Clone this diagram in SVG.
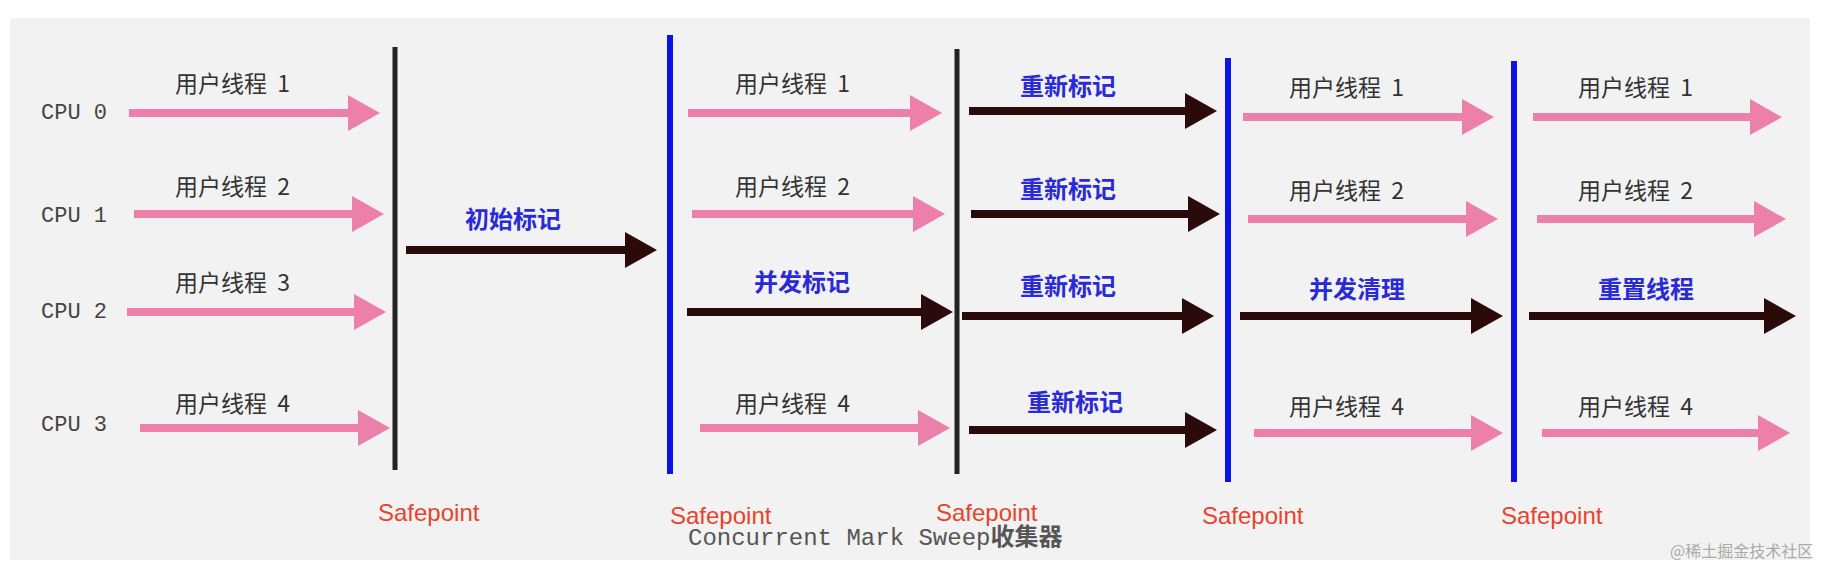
<svg xmlns="http://www.w3.org/2000/svg" width="1834" height="568" viewBox="0 0 1834 568">
<style>
.p{stroke:#ec80aa;stroke-width:8;fill:none;marker-end:url(#hp)}
.d{stroke:#2b0a0a;stroke-width:8;fill:none;marker-end:url(#hd)}
.ut{font-family:"Noto Sans CJK SC","Liberation Sans",sans-serif;font-size:23px;fill:#333;white-space:pre}
.bt{font-family:"Noto Sans CJK SC","Liberation Sans",sans-serif;font-size:24px;fill:#2a2ad6;font-weight:bold}
.cpu{font-family:"Liberation Mono",monospace;font-size:22px;fill:#444}
.sp{font-family:"Liberation Sans",sans-serif;font-size:24px;fill:#e8432c}
.vk{stroke:#222;stroke-width:5}
.vb{stroke:#0a14e6;stroke-width:6}
</style>
<defs>
<marker id="hp" markerUnits="userSpaceOnUse" markerWidth="32" markerHeight="36" refX="2" refY="18" orient="auto" viewBox="0 0 32 36"><path d="M0,0 L32,18 L0,36 Z" fill="#ec80aa"/></marker>
<marker id="hd" markerUnits="userSpaceOnUse" markerWidth="32" markerHeight="36" refX="2" refY="18" orient="auto" viewBox="0 0 32 36"><path d="M0,0 L32,18 L0,36 Z" fill="#2b0a0a"/></marker>
</defs>
<rect width="1834" height="568" fill="#ffffff"/>
<rect x="10" y="18" width="1800" height="542" fill="#f2f2f2"/>
<g id="cpus">
<text class="cpu" x="41" y="119">CPU 0</text>
<text class="cpu" x="41" y="222">CPU 1</text>
<text class="cpu" x="41" y="318">CPU 2</text>
<text class="cpu" x="41" y="431">CPU 3</text>
</g>
<g id="safepoints">
<line id="sp1" class="vk" x1="395" y1="47" x2="395" y2="470"/>
<line id="sp2" class="vb" x1="670" y1="35" x2="670" y2="474"/>
<line id="sp3" class="vk" x1="957" y1="49" x2="957" y2="474"/>
<line id="sp4" class="vb" x1="1228" y1="58" x2="1228" y2="482"/>
<line id="sp5" class="vb" x1="1514" y1="61" x2="1514" y2="482"/>
<text class="sp" x="378" y="521">Safepoint</text>
<text class="sp" x="670" y="524">Safepoint</text>
<text class="sp" x="936" y="521">Safepoint</text>
<text class="sp" x="1202" y="524">Safepoint</text>
<text class="sp" x="1501" y="524">Safepoint</text>
</g>
<g id="connectors">
<line class="p" x1="129" y1="113" x2="350" y2="113"/>
<line class="p" x1="134" y1="214" x2="354" y2="214"/>
<line class="p" x1="127" y1="312" x2="356" y2="312"/>
<line class="p" x1="140" y1="428" x2="360" y2="428"/>
<line class="d" x1="406" y1="250" x2="627" y2="250"/>
<line class="p" x1="688" y1="113" x2="912" y2="113"/>
<line class="p" x1="692" y1="214" x2="915" y2="214"/>
<line class="d" x1="687" y1="312" x2="923" y2="312"/>
<line class="p" x1="700" y1="428" x2="920" y2="428"/>
<line class="d" x1="969" y1="111" x2="1187" y2="111"/>
<line class="d" x1="971" y1="214" x2="1190" y2="214"/>
<line class="d" x1="962" y1="316" x2="1184" y2="316"/>
<line class="d" x1="969" y1="430" x2="1187" y2="430"/>
<line class="p" x1="1243" y1="117" x2="1464" y2="117"/>
<line class="p" x1="1248" y1="219" x2="1468" y2="219"/>
<line class="d" x1="1240" y1="316" x2="1473" y2="316"/>
<line class="p" x1="1254" y1="433" x2="1473" y2="433"/>
<line class="p" x1="1533" y1="117" x2="1752" y2="117"/>
<line class="p" x1="1537" y1="219" x2="1756" y2="219"/>
<line class="d" x1="1529" y1="316" x2="1766" y2="316"/>
<line class="p" x1="1542" y1="433" x2="1760" y2="433"/>
</g>
<g id="labels">
<text class="ut" x="175" y="92">用户线程  1</text>
<text class="ut" x="175" y="195">用户线程  2</text>
<text class="ut" x="175" y="291">用户线程  3</text>
<text class="ut" x="175" y="412">用户线程  4</text>
<text class="bt" x="513" y="228" text-anchor="middle" font-weight="normal">初始标记</text>
<text class="ut" x="735" y="92">用户线程  1</text>
<text class="ut" x="735" y="195">用户线程  2</text>
<text class="bt" x="802" y="291" text-anchor="middle">并发标记</text>
<text class="ut" x="735" y="412">用户线程  4</text>
<text class="bt" x="1068" y="95" text-anchor="middle">重新标记</text>
<text class="bt" x="1068" y="198" text-anchor="middle">重新标记</text>
<text class="bt" x="1068" y="295" text-anchor="middle">重新标记</text>
<text class="bt" x="1075" y="411" text-anchor="middle">重新标记</text>
<text class="ut" x="1289" y="96">用户线程  1</text>
<text class="ut" x="1289" y="199">用户线程  2</text>
<text class="bt" x="1357" y="298" text-anchor="middle">并发清理</text>
<text class="ut" x="1289" y="415">用户线程  4</text>
<text class="ut" x="1578" y="96">用户线程  1</text>
<text class="ut" x="1578" y="199">用户线程  2</text>
<text class="bt" x="1646" y="298" text-anchor="middle">重置线程</text>
<text class="ut" x="1578" y="415">用户线程  4</text>
<text x="688" y="545" font-family="Liberation Mono,monospace" font-size="24" fill="#555">Concurrent Mark Sweep<tspan font-family="Noto Sans CJK SC,sans-serif" font-weight="bold">收集器</tspan></text>
<text x="1670" y="557" font-family="Noto Sans CJK SC,sans-serif" font-size="16" fill="#aaa">@稀土掘金技术社区</text>
</g>
</svg>
